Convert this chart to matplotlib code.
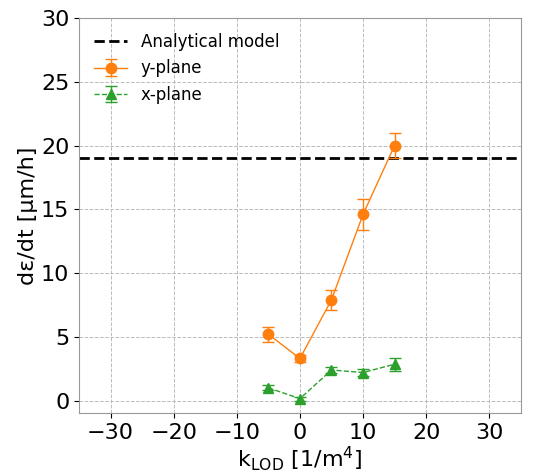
import matplotlib
matplotlib.use("Agg")
import matplotlib.pyplot as plt

k_lod = [-5, 0, 5, 10, 15]
y_plane = [5.2, 3.3, 7.9, 14.6, 20.0]
y_plane_err = [0.6, 0.3, 0.8, 1.2, 1.0]
x_plane = [1.0, 0.15, 2.4, 2.2, 2.85]
x_plane_err = [0.2, 0.15, 0.2, 0.25, 0.5]
analytical = 19.0
x_ticks = [-30, -20, -10, 0, 10, 20, 30]

fig, ax = plt.subplots(figsize=(5.38, 4.74), dpi=100)
ax.axhline(analytical, color='black', ls='--', lw=2, label='Analytical model')
ax.errorbar(k_lod, y_plane, yerr=y_plane_err, color='tab:orange', marker='o', ms=7.5,
            lw=1, capsize=4, label='y-plane')
ax.errorbar(k_lod, x_plane, yerr=x_plane_err, color='tab:green', marker='^', ms=7.5,
            lw=1, ls='--', capsize=4, label='x-plane')
ax.set_xlim(-35, 35)
ax.set_ylim(-1, 30)
ax.set_xticks(x_ticks)
ax.grid(True, ls='--', color='#bbbbbb', lw=0.7)
ax.tick_params(labelsize=16)
for s in ax.spines.values():
    s.set_color('#999999')
ax.set_xlabel(r'k$_{\mathrm{LOD}}$ [1/m$^4$]', fontsize=16, labelpad=1)
ax.set_ylabel('dε/dt [μm/h]', fontsize=16, labelpad=2)
ax.legend(loc='upper left', fontsize=12, frameon=False)
fig.subplots_adjust(left=0.147, right=0.968, top=0.962, bottom=0.128)
fig.savefig('out.png', dpi=100)
